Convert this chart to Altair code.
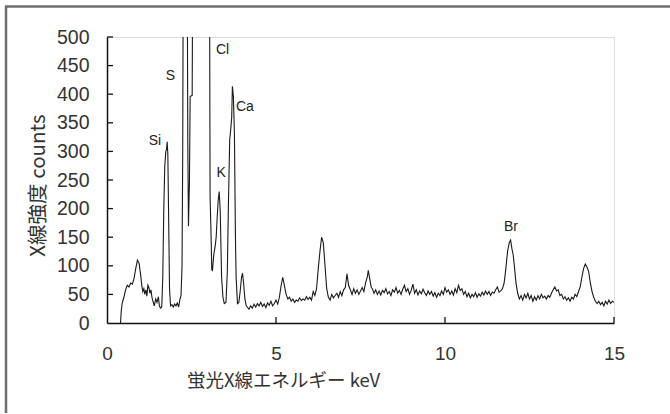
import altair as alt
import pandas as pd

# Spectrum (keV, counts); values above 500 are off-scale (clipped)
kev = [0.40, 0.42, 0.45, 0.50, 0.55, 0.60, 0.65, 0.70, 0.75, 0.80, 0.85, 0.90, 0.95, 1.00,
       1.03, 1.06, 1.09, 1.12, 1.15, 1.18, 1.21, 1.24, 1.27, 1.30, 1.33, 1.36, 1.40, 1.44,
       1.48, 1.52, 1.55, 1.58, 1.62,
       1.65, 1.68, 1.71, 1.74, 1.76, 1.78, 1.80, 1.82, 1.85, 1.88, 1.92, 1.96, 2.00, 2.04,
       2.08, 2.12, 2.16, 2.19,
       2.22, 2.24, 2.26, 2.32, 2.37, 2.39, 2.41, 2.44, 2.46, 2.52, 2.54, 2.62, 2.75, 2.90,
       2.97, 3.03, 3.05, 3.08, 3.10, 3.12,
       3.16, 3.20, 3.23, 3.26, 3.29, 3.32, 3.35, 3.39, 3.43, 3.47, 3.52, 3.56, 3.59, 3.63,
       3.66, 3.69, 3.71, 3.74, 3.77, 3.80, 3.82, 3.86, 3.90, 3.94, 3.98, 4.01, 4.04, 4.08,
       4.12,
       4.15, 4.20, 4.25, 4.30, 4.35, 4.40, 4.45, 4.50, 4.55, 4.60, 4.65, 4.70, 4.75, 4.80,
       4.85, 4.90, 4.95, 5.00, 5.05, 5.10, 5.15, 5.20, 5.25, 5.30, 5.35, 5.40, 5.45, 5.50,
       5.55, 5.60, 5.65, 5.70, 5.75, 5.80, 5.85, 5.90, 5.95, 6.00, 6.05, 6.10, 6.15, 6.20,
       6.25, 6.30, 6.35, 6.40, 6.45, 6.50, 6.55, 6.60, 6.65, 6.70, 6.75, 6.80, 6.85, 6.90,
       6.95, 7.00, 7.05, 7.10, 7.15, 7.20, 7.25, 7.30, 7.35, 7.40, 7.45, 7.50, 7.55, 7.60,
       7.65, 7.70, 7.73, 7.78, 7.82, 7.85, 7.90, 7.95, 8.00, 8.05, 8.10, 8.15, 8.20, 8.25,
       8.30, 8.35, 8.40, 8.45, 8.50, 8.55, 8.60, 8.65, 8.70, 8.75, 8.80, 8.85, 8.90, 8.95,
       9.00, 9.05, 9.10, 9.15, 9.20, 9.25, 9.30, 9.35, 9.40, 9.45, 9.50, 9.55, 9.60, 9.65,
       9.70, 9.75, 9.80, 9.85, 9.90, 9.95, 10.00, 10.05, 10.10, 10.15, 10.20, 10.25, 10.30,
       10.35, 10.40, 10.45, 10.50, 10.55, 10.60, 10.65, 10.70, 10.75, 10.80, 10.85, 10.90,
       10.95, 11.00, 11.05, 11.10, 11.15, 11.20, 11.25, 11.30, 11.35, 11.40, 11.45, 11.50,
       11.55, 11.60, 11.65, 11.70, 11.75, 11.80, 11.85, 11.90, 11.94, 11.98, 12.02, 12.06,
       12.10, 12.15, 12.20, 12.25, 12.30, 12.35, 12.40, 12.45, 12.50, 12.55, 12.60, 12.65,
       12.70, 12.75, 12.80, 12.85, 12.90, 12.95, 13.00, 13.05, 13.10, 13.15, 13.20, 13.25,
       13.30, 13.35, 13.40, 13.45, 13.50, 13.55, 13.60, 13.65, 13.70, 13.75, 13.80, 13.85,
       13.90, 13.95, 14.00, 14.05, 14.10, 14.15, 14.20, 14.25, 14.30, 14.35, 14.40, 14.45,
       14.50, 14.55, 14.60, 14.65, 14.70, 14.75, 14.80, 14.85, 14.90, 14.95, 15.00]

counts = [0, 20, 35, 45, 58, 66, 63, 70, 68, 78, 95, 110, 104, 82,
          65, 55, 60, 50, 58, 47, 66, 62, 52, 58, 45, 38, 30, 42,
          36, 46, 30, 26, 28,
          80, 200, 275, 300, 303, 317, 295, 200, 60, 30, 32, 28, 33, 30,
          35, 28, 42, 48,
          100, 300, 700, 1400, 700, 320, 169, 250, 396, 398, 700, 1500, 1000, 900,
          1100, 700, 221, 150, 93, 92,
          120, 134, 150, 185, 215, 230, 195, 81, 45, 34, 36, 90, 200, 320,
          338, 360, 414, 395, 330, 150, 81, 34, 36, 55, 80, 87, 70, 42,
          30,
          28, 24, 30, 26, 33, 28, 34, 30, 36, 29, 33, 27, 35, 31,
          38, 30, 34, 40, 33, 45, 65, 80, 65, 50, 42, 45, 38, 42,
          36, 40, 38, 44, 39, 42, 40, 46, 41, 45, 40, 55, 48, 60,
          95, 125, 150, 140, 100, 60, 45, 40, 50, 44, 48, 52, 45, 55,
          48, 58, 62, 86, 65, 58, 50, 60, 52, 58, 50, 56, 62, 55,
          70, 80, 92, 75, 62, 60, 52, 58, 50, 56, 49, 57, 53, 60,
          51, 55, 48, 58, 54, 62, 52, 57, 50, 59, 66, 55, 60, 50,
          57, 68, 52, 58, 49, 56, 51, 59, 53, 48, 56, 50, 55, 47,
          53, 45, 52, 48, 56, 50, 62, 54, 58, 50, 56, 49, 60,
          53, 66, 57, 60, 50, 55, 46, 52, 44, 50, 46, 53,
          45, 51, 47, 54, 49, 56, 50, 55, 48, 54, 52, 58,
          63, 54, 56, 60, 70, 95, 125, 140, 145, 130, 118, 95,
          70, 52, 42, 48, 40, 50, 44, 52, 42, 48, 38, 46,
          40, 48, 42, 50, 44, 47, 42, 48, 45, 52, 58, 63,
          56, 58, 48, 50, 42, 46, 40, 44, 38, 45, 42, 50,
          46, 55, 63, 80, 95, 103, 98, 90, 70, 55, 45, 38,
          34, 38, 32, 36, 30, 38, 33, 40, 34, 38, 36]

peak_names = ["Si", "S", "Cl", "K", "Ca", "Br"]
peak_kev = [1.42, 1.88, 3.42, 3.38, 4.08, 11.95]
peak_counts = [319, 432, 478, 263, 378, 167]

y_ticks = [0, 50, 100, 150, 200, 250, 300, 350, 400, 450, 500]
x_ticks = [0, 5, 10, 15]
x_minor = [5, 10, 15]

W, H = 507, 286

spec = pd.DataFrame({"kev": kev, "counts": counts})
labels = pd.DataFrame({"name": peak_names, "kev": peak_kev, "counts": peak_counts})
yt = pd.DataFrame({"v": y_ticks[1:]})
xt = pd.DataFrame({"v": x_minor})

xscale = alt.Scale(domain=[0, 15], nice=False, zero=False)
yscale = alt.Scale(domain=[0, 500], nice=False)

xaxis = alt.Axis(values=x_ticks, ticks=False, tickSize=0, grid=False, domainColor="#111",
                 domainWidth=1.5, labelFont="Liberation Sans", labelFontSize=19,
                 labelColor="#333", labelPadding=21, labelOverlap=False, labelFlush=False,
                 title="蛍光X線エネルギー keV", titleFont="Noto Sans CJK JP",
                 titleFontSize=18.5, titleFontWeight="normal", titleColor="#333",
                 titleX=176, titleY=57, titleAlign="center", titleBaseline="middle")
yaxis = alt.Axis(values=y_ticks, ticks=False, tickSize=0, grid=False, domainColor="#111",
                 domainWidth=1.5, labelFont="Liberation Sans", labelFontSize=19.5,
                 labelColor="#333", labelPadding=18, labelOverlap=False, labelFlush=False,
                 title="X線強度 counts", titleFont="Noto Sans CJK JP",
                 titleFontSize=20.5, titleFontWeight="normal", titleColor="#333",
                 titleX=-69, titleY=148, titleAngle=270, titleAlign="center",
                 titleBaseline="middle")

line = alt.Chart(spec).mark_line(color="#1a1a1a", strokeWidth=1.1, clip=True).encode(
    x=alt.X("kev:Q", scale=xscale, axis=xaxis),
    y=alt.Y("counts:Q", scale=yscale, axis=yaxis),
)

text = alt.Chart(labels).mark_text(font="Liberation Sans", fontSize=14, color="#222").encode(
    x=alt.X("kev:Q", scale=xscale, axis=xaxis),
    y=alt.Y("counts:Q", scale=yscale, axis=yaxis),
    text="name:N",
)

ytick = alt.Chart(yt).mark_rule(color="#111", strokeWidth=1.3).encode(
    y=alt.Y("v:Q", scale=yscale, axis=yaxis), x=alt.value(0), x2=alt.value(6))
xtick = alt.Chart(xt).mark_rule(color="#111", strokeWidth=1.3).encode(
    x=alt.X("v:Q", scale=xscale, axis=xaxis), y=alt.value(H), y2=alt.value(H - 6))

frame_left = alt.Chart(pd.DataFrame({"a": [0]})).mark_rule(color="#6e6e6e", strokeWidth=2.5).encode(
    x=alt.value(-101), x2=alt.value(-101), y=alt.value(-30.5), y2=alt.value(400))
frame_top = alt.Chart(pd.DataFrame({"a": [0]})).mark_rule(color="#6e6e6e", strokeWidth=2.5).encode(
    x=alt.value(-102), x2=alt.value(600), y=alt.value(-30.5), y2=alt.value(-30.5))

chart = alt.layer(line, frame_left, frame_top, ytick, xtick, text).properties(
    width=W, height=H,
    autosize=alt.AutoSizeParams(type="none"),
    padding={"left": 107, "top": 37, "right": 56, "bottom": 90},
).configure_view(stroke=None).configure(background="white")

chart.save("out.html", embed_options={"renderer": "svg", "actions": False})
